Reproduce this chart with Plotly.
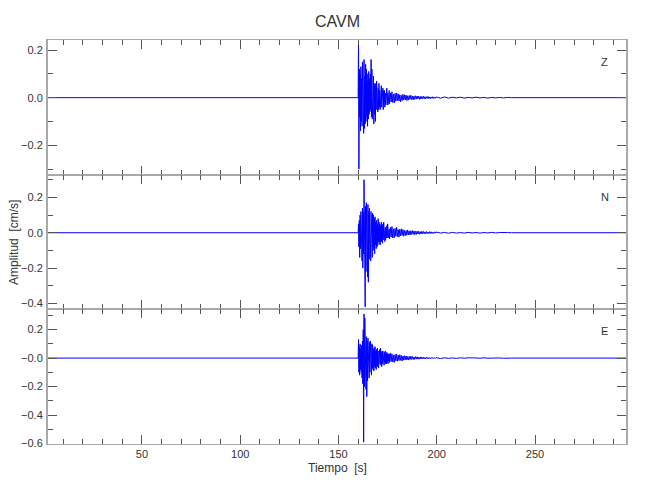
import numpy as np
import plotly.graph_objects as go
from plotly.subplots import make_subplots

# ---- data ----
title = "CAVM"
components = ["Z", "N", "E"]

t_pre = [2.2, 159.8]
pre_vals = [0.0, 0.0]

# active part: 160.0 .. 175.8 s, every 0.2 s
z_active = [0.0, 0.24, -0.30, 0.12, -0.08, 0.10, -0.14, 0.13, -0.10, 0.08,
            -0.12, 0.15, -0.09, 0.11, -0.15, 0.16, -0.13, 0.09, -0.11, 0.14,
            -0.10, 0.12, -0.08, 0.10, -0.12, 0.07, -0.09, 0.11, -0.07, 0.08,
            -0.06, 0.10, -0.05, 0.16, -0.08, 0.12, -0.09, 0.07, -0.06, 0.09,
            -0.11, 0.06, -0.07, 0.05, -0.10, 0.06, -0.05, 0.07, -0.04, 0.05,
            -0.06, 0.04, -0.05, 0.06, -0.04, 0.03, -0.05, 0.04, -0.03, 0.05,
            -0.04, 0.03, -0.03, 0.04, -0.05, 0.03, -0.02, 0.03, -0.04, 0.02,
            -0.03, 0.03, -0.02, 0.04, -0.03, 0.02, -0.03, 0.02, -0.02, 0.03]
n_active = [0.0, 0.05, -0.08, 0.07, -0.14, 0.10, -0.09, 0.12, -0.10, 0.08,
            -0.16, 0.14, -0.20, 0.12, -0.12, 0.30, -0.15, 0.20, -0.42, 0.15,
            -0.22, 0.17, -0.18, 0.13, -0.25, 0.16, -0.28, 0.12, -0.15, 0.14,
            -0.12, 0.10, -0.16, 0.12, -0.10, 0.09, -0.14, 0.11, -0.08, 0.10,
            -0.10, 0.08, -0.12, 0.09, -0.07, 0.06, -0.09, 0.07, -0.08, 0.05,
            -0.07, 0.08, -0.05, 0.06, -0.06, 0.05, -0.07, 0.04, -0.05, 0.06,
            -0.05, 0.04, -0.06, 0.05, -0.04, 0.06, -0.03, 0.04, -0.05, 0.03,
            -0.04, 0.03, -0.03, 0.04, -0.03, 0.05, -0.02, 0.03, -0.03, 0.02]
e_active = [0.0, 0.13, -0.10, 0.08, -0.12, 0.10, -0.08, 0.06, -0.10, 0.09,
            -0.14, 0.12, -0.18, 0.20, -0.59, 0.31, -0.20, 0.28, -0.15, 0.18,
            -0.22, 0.15, -0.27, 0.12, -0.16, 0.14, -0.12, 0.10, -0.14, 0.11,
            -0.10, 0.12, -0.09, 0.08, -0.12, 0.10, -0.07, 0.09, -0.08, 0.06,
            -0.09, 0.07, -0.06, 0.08, -0.07, 0.05, -0.08, 0.06, -0.05, 0.07,
            -0.06, 0.05, -0.07, 0.04, -0.05, 0.06, -0.04, 0.07, -0.05, 0.04,
            -0.06, 0.05, -0.04, 0.05, -0.03, 0.04, -0.05, 0.04, -0.03, 0.05,
            -0.04, 0.03, -0.04, 0.04, -0.03, 0.03, -0.04, 0.03, -0.02, 0.03]

# coda: 176.0 .. 199.6 s, every 0.4 s
z_tail = [-0.025, 0.02, -0.018, 0.025, -0.02, 0.015, -0.022, 0.018, -0.015, 0.02,
          -0.012, 0.016, -0.014, 0.012, -0.018, 0.01, -0.012, 0.014, -0.01, 0.012,
          -0.009, 0.011, -0.012, 0.008, -0.01, 0.009, -0.007, 0.01, -0.008, 0.007,
          -0.009, 0.006, -0.007, 0.008, -0.006, 0.007, -0.005, 0.006, -0.007, 0.005,
          -0.006, 0.005, -0.004, 0.006, -0.005, 0.004, -0.005, 0.004, -0.003, 0.005,
          -0.004, 0.003, -0.004, 0.003, -0.003, 0.004, -0.003, 0.002, -0.003, 0.003]
n_tail = [-0.035, 0.03, -0.025, 0.035, -0.03, 0.022, -0.028, 0.025, -0.02, 0.03,
          -0.022, 0.018, -0.025, 0.02, -0.018, 0.022, -0.015, 0.018, -0.02, 0.014,
          -0.016, 0.012, -0.014, 0.016, -0.012, 0.01, -0.013, 0.011, -0.01, 0.012,
          -0.009, 0.01, -0.011, 0.008, -0.01, 0.009, -0.007, 0.008, -0.009, 0.006,
          -0.007, 0.008, -0.006, 0.007, -0.006, 0.005, -0.006, 0.007, -0.005, 0.004,
          -0.005, 0.006, -0.004, 0.005, -0.004, 0.003, -0.004, 0.005, -0.003, 0.004]
e_tail = [-0.03, 0.035, -0.025, 0.03, -0.028, 0.022, -0.03, 0.025, -0.02, 0.028,
          -0.022, 0.02, -0.018, 0.024, -0.016, 0.018, -0.02, 0.015, -0.014, 0.017,
          -0.012, 0.015, -0.013, 0.011, -0.014, 0.012, -0.01, 0.013, -0.009, 0.011,
          -0.01, 0.008, -0.009, 0.01, -0.007, 0.009, -0.008, 0.006, -0.007, 0.008,
          -0.006, 0.007, -0.005, 0.006, -0.006, 0.004, -0.005, 0.006, -0.004, 0.005,
          -0.004, 0.003, -0.004, 0.004, -0.003, 0.004, -0.003, 0.002, -0.003, 0.003]

# late coda: 200 .. 238 s, every 2 s
z_late = [0.002, -0.002, 0.003, -0.002, 0.002, -0.001, 0.002, -0.002, 0.001, -0.001,
          0.002, -0.001, 0.001, -0.002, 0.001, -0.001, 0.001, -0.001, 0.001, 0.0]
n_late = [0.003, -0.002, 0.002, -0.003, 0.002, -0.002, 0.001, -0.002, 0.002, -0.001,
          0.001, -0.002, 0.001, -0.001, 0.002, -0.001, 0.001, -0.001, 0.001, 0.0]
e_late = [0.002, -0.003, 0.002, -0.002, 0.001, -0.002, 0.002, -0.001, 0.002, -0.001,
          0.001, -0.001, 0.002, -0.001, 0.001, -0.001, 0.001, -0.001, 0.001, 0.0]

t_end = [296.3]
end_vals = [0.0]

t_active = list(160.0 + 0.2 * np.arange(len(z_active)))
t_tail = list(176.0 + 0.4 * np.arange(len(z_tail)))
t_late = list(200.0 + 2.0 * np.arange(len(z_late)))
times = t_pre + t_active + t_tail + t_late + t_end

series = {
    "Z": pre_vals + z_active + z_tail + z_late + end_vals,
    "N": pre_vals + n_active + n_tail + n_late + end_vals,
    "E": pre_vals + e_active + e_tail + e_late + end_vals,
}

y_ranges = {"Z": [-0.326, 0.242], "N": [-0.43, 0.325], "E": [-0.603, 0.347]}
y_major = {"Z": [-0.2, 0.0, 0.2], "N": [-0.4, -0.2, 0.0, 0.2],
           "E": [-0.6, -0.4, -0.2, 0.0, 0.2]}
y_major_text = {"Z": ["−0.2", "0.0", "0.2"], "N": ["−0.4", "−0.2", "0.0", "0.2"],
                "E": ["−0.6", "−0.4", "−0.2", "−0.0", "0.2"]}
y_minor = {"Z": [-0.3, -0.1, 0.1], "N": [-0.3, -0.1, 0.1, 0.3],
           "E": [-0.5, -0.3, -0.1, 0.1, 0.3]}
label_y = {"Z": 0.15, "N": 0.2, "E": 0.19}

x_range = [2.2, 296.3]
x_major = [50, 100, 150, 200, 250]

# ---- figure ----
FONT = "Liberation Sans, Arial, sans-serif"
AX = "#a9a9a9"
TK = "#555555"
TXT = "#333333"

fig = make_subplots(rows=3, cols=1, shared_xaxes=True, vertical_spacing=0)

for i, c in enumerate(components, start=1):
    fig.add_trace(go.Scatter(x=times, y=series[c], mode="lines",
                             line=dict(color="#0000ff", width=1),
                             showlegend=False, hoverinfo="skip"),
                  row=i, col=1)
    fig.update_yaxes(range=y_ranges[c], tickmode="array", tickvals=y_major[c],
                     ticktext=y_major_text[c], ticks="inside", ticklen=9,
                     tickcolor=TK, tickwidth=1, showline=True, linecolor=AX,
                     linewidth=2, mirror="allticks", showgrid=False, zeroline=False,
                     automargin=False, ticklabelstandoff=1,
                     tickfont=dict(family=FONT, size=11, color=TXT),
                     minor=dict(tickmode="array", tickvals=y_minor[c], ticks="inside",
                                ticklen=5, tickcolor=TK, showgrid=False),
                     row=i, col=1)
    fig.update_xaxes(range=x_range, tickmode="array", tickvals=x_major,
                     ticks="inside", ticklen=9, tickcolor=TK, tickwidth=1,
                     showline=True, linecolor=AX, linewidth=1, mirror="allticks",
                     showgrid=False, zeroline=False, showticklabels=(i == 3),
                     automargin=False,
                     tickfont=dict(family=FONT, size=11, color=TXT),
                     minor=dict(dtick=10, tick0=0, ticks="inside", ticklen=5,
                                tickcolor=TK, showgrid=False),
                     row=i, col=1)
    yref = "y" if i == 1 else f"y{i}"
    fig.add_annotation(x=285.6, y=label_y[c], xref="x", yref=yref, text=c,
                       showarrow=False, font=dict(family=FONT, size=11, color=TXT))

fig.layout.yaxis.domain = [0.665, 1.0]
fig.layout.yaxis2.domain = [0.335, 0.665]
fig.layout.yaxis3.domain = [0.0, 0.335]

fig.add_annotation(x=0.5, y=-0.06, xref="paper", yref="paper", text="Tiempo  [s]",
                   showarrow=False, font=dict(family=FONT, size=12, color=TXT),
                   yanchor="middle")
fig.add_annotation(x=-0.059, y=0.5, xref="paper", yref="paper", text="Amplitud  [cm/s]",
                   showarrow=False, textangle=-90,
                   font=dict(family=FONT, size=12, color=TXT), xanchor="center")
fig.add_annotation(x=0.5, y=1.045, xref="paper", yref="paper", text=title,
                   showarrow=False, font=dict(family=FONT, size=16, color=TXT),
                   yanchor="middle")

fig.update_layout(
    width=650, height=500,
    margin=dict(l=40, r=32, t=32, b=64, autoexpand=False),
    paper_bgcolor="white", plot_bgcolor="white",
)

fig.write_html("out.html")
